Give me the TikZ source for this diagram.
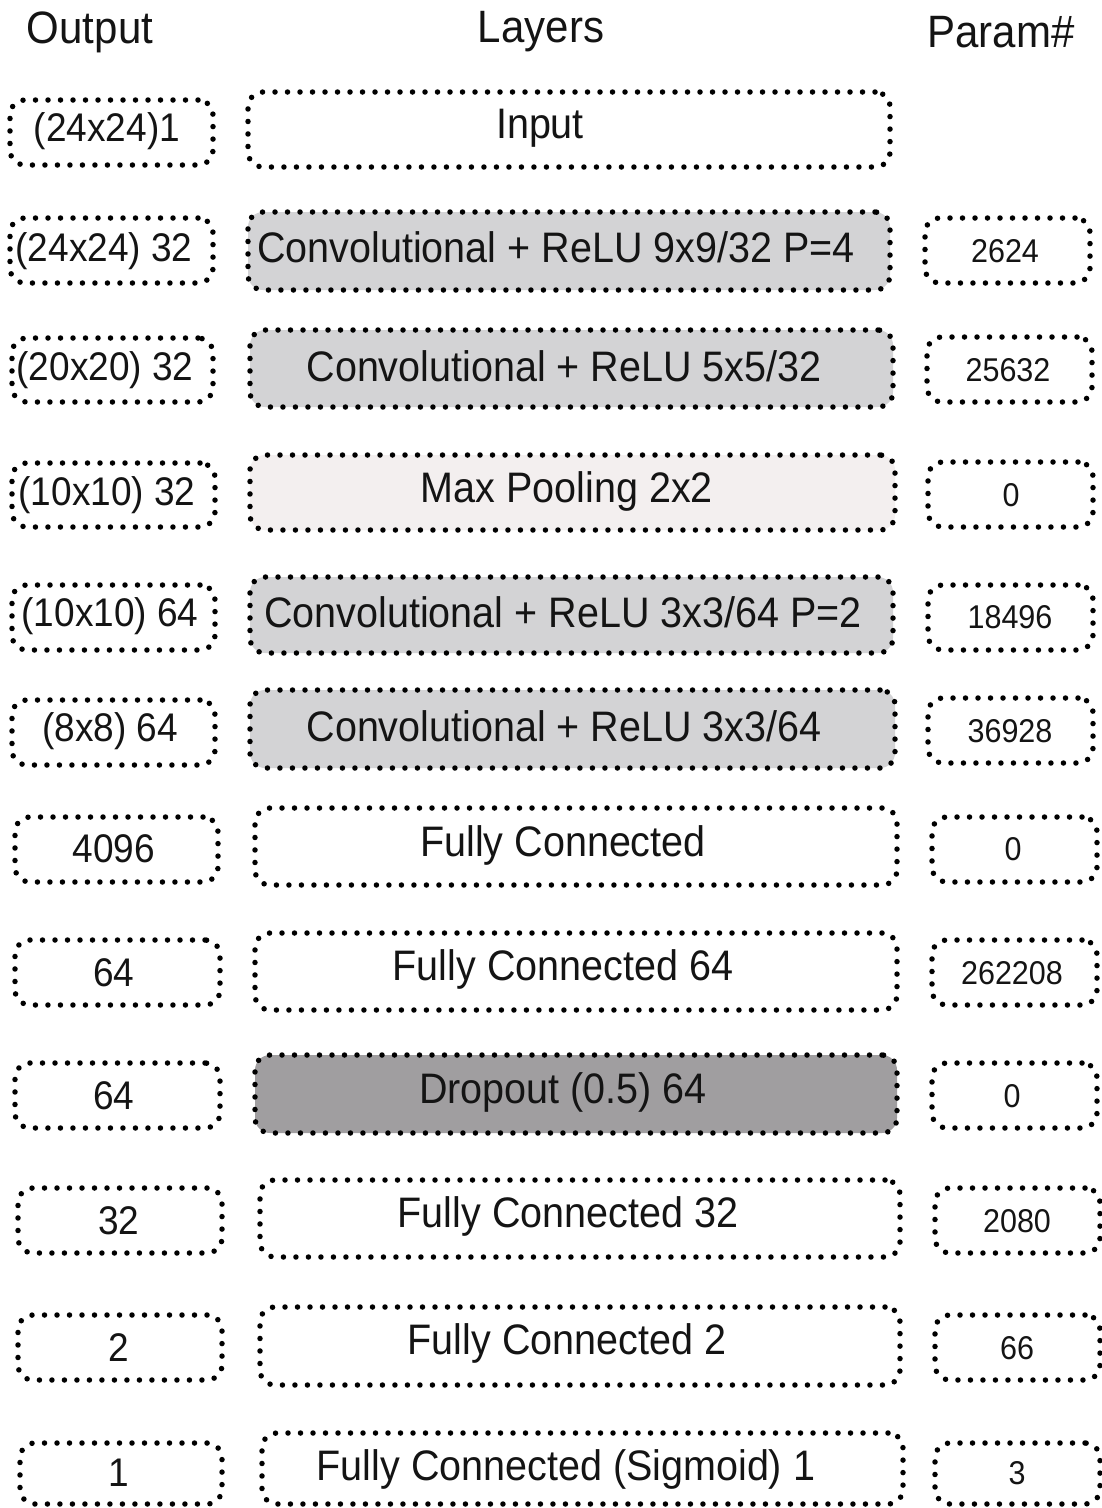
\documentclass[tikz,border=0pt]{standalone}
\usepackage{graphicx}
\usepackage{fontspec}
\setmainfont{Liberation Sans}
\definecolor{convfill}{RGB}{211,211,213}
\definecolor{poolfill}{RGB}{243,239,239}
\definecolor{dropfill}{RGB}{160,158,160}
\definecolor{txt}{RGB}{20,20,20}
\newcommand\tall[1]{\scalebox{1}[1.08]{#1}}
\tikzset{
  dbox/.style={draw=black, line width=5.5pt, dash pattern=on 0pt off 12.5pt, line cap=round, rounded corners=15pt, inner sep=0pt},
  htxt/.style={font=\fontsize{42}{48}\selectfont, text=txt, inner sep=0pt},
  mtxt/.style={font=\fontsize{39.5}{46}\selectfont, text=txt, inner sep=0pt},
  ltxt/.style={font=\fontsize{37}{44}\selectfont, text=txt, inner sep=0pt},
  rtxt/.style={font=\fontsize{30.5}{36}\selectfont, text=txt, inner sep=0pt},
  conv/.style={fill=convfill},
  pool/.style={fill=poolfill},
  drop/.style={fill=dropfill},
  plain/.style={fill=white},
}
\newcommand\mybox[6]{%
  \pgfmathsetmacro\cxx{(#2+#4)/2}\pgfmathsetmacro\cyy{(#3+#5)/2}%
  \pgfmathsetmacro\ww{#4-#2}\pgfmathsetmacro\hh{#5-#3}%
  \node[dbox,#6,minimum width=\ww pt,minimum height=\hh pt] (#1) at (\cxx,\cyy) {};}
\begin{document}
\begin{tikzpicture}[x=1pt,y=-1pt]
\useasboundingbox[fill=white] (0,0) rectangle (1102,1508);
% headers
\node[htxt] (hout) at (90,32) {\tall{Output}};
\node[htxt] (hlay) at (541,32) {\tall{Layers}};
\node[htxt] (hpar) at (1001,32) {\tall{Param\#}};
% row 0
\mybox{l0}{10}{100}{213}{165}{plain}
\mybox{m0}{248}{92}{890}{167}{plain}
\node[ltxt] (l0t) at (107,131) {\tall{(24x24)1}};
\node[mtxt] (m0t) at (540,128) {\tall{Input}};
% row 1
\mybox{l1}{10}{218}{213}{283}{plain}
\mybox{m1}{248}{212}{890}{290}{conv}
\mybox{r1}{925}{218}{1090}{283}{plain}
\node[ltxt] (l1t) at (104,251) {\tall{(24x24) 32}};
\node[mtxt] (m1t) at (556,247) {\tall{Convolutional + ReLU 9x9/32 P=4}};
\node[rtxt] (r1t) at (1005,251) {\tall{2624}};
% row 2
\mybox{l2}{12}{338}{213}{402}{plain}
\mybox{m2}{250}{330}{893}{407}{conv}
\mybox{r2}{927}{337}{1092}{402}{plain}
\node[ltxt] (l2t) at (105,370) {\tall{(20x20) 32}};
\node[mtxt] (m2t) at (564,366) {\tall{Convolutional + ReLU 5x5/32}};
\node[rtxt] (r2t) at (1008,370) {\tall{25632}};
% row 3
\mybox{l3}{12}{463}{215}{527}{plain}
\mybox{m3}{250}{455}{895}{530}{pool}
\mybox{r3}{928}{462}{1093}{527}{plain}
\node[ltxt] (l3t) at (107,495) {\tall{(10x10) 32}};
\node[mtxt] (m3t) at (567,491) {\tall{Max Pooling 2x2}};
\node[rtxt] (r3t) at (1011,495) {\tall{0}};
% row 4
\mybox{l4}{12}{585}{215}{650}{plain}
\mybox{m4}{250}{577}{893}{653}{conv}
\mybox{r4}{928}{585}{1093}{650}{plain}
\node[ltxt] (l4t) at (110,616) {\tall{(10x10) 64}};
\node[mtxt] (m4t) at (563,612) {\tall{Convolutional + ReLU 3x3/64 P=2}};
\node[rtxt] (r4t) at (1010,617) {\tall{18496}};
% row 5
\mybox{l5}{12}{700}{215}{765}{plain}
\mybox{m5}{250}{690}{895}{768}{conv}
\mybox{r5}{928}{698}{1093}{763}{plain}
\node[ltxt] (l5t) at (110,731) {\tall{(8x8) 64}};
\node[mtxt] (m5t) at (564,726) {\tall{Convolutional + ReLU 3x3/64}};
\node[rtxt] (r5t) at (1010,731) {\tall{36928}};
% row 6
\mybox{l6}{15}{817}{218}{882}{plain}
\mybox{m6}{255}{808}{897}{885}{plain}
\mybox{r6}{932}{817}{1097}{882}{plain}
\node[ltxt] (l6t) at (114,849) {\tall{4096}};
\node[mtxt] (m6t) at (563,845) {\tall{Fully Connected}};
\node[rtxt] (r6t) at (1013,849) {\tall{0}};
% row 7
\mybox{l7}{15}{940}{220}{1005}{plain}
\mybox{m7}{255}{933}{897}{1010}{plain}
\mybox{r7}{932}{940}{1097}{1005}{plain}
\node[ltxt] (l7t) at (114,973) {\tall{64}};
\node[mtxt] (m7t) at (563,969) {\tall{Fully Connected 64}};
\node[rtxt] (r7t) at (1012,973) {\tall{262208}};
% row 8
\mybox{l8}{15}{1063}{220}{1128}{plain}
\mybox{m8}{255}{1055}{897}{1133}{drop}
\mybox{r8}{932}{1063}{1097}{1128}{plain}
\node[ltxt] (l8t) at (114,1096) {\tall{64}};
\node[mtxt] (m8t) at (563,1092) {\tall{Dropout (0.5) 64}};
\node[rtxt] (r8t) at (1012,1096) {\tall{0}};
% row 9
\mybox{l9}{18}{1188}{222}{1253}{plain}
\mybox{m9}{260}{1180}{900}{1257}{plain}
\mybox{r9}{935}{1188}{1100}{1253}{plain}
\node[ltxt] (l9t) at (119,1221) {\tall{32}};
\node[mtxt] (m9t) at (568,1216) {\tall{Fully Connected 32}};
\node[rtxt] (r9t) at (1017,1221) {\tall{2080}};
% row 10
\mybox{l10}{18}{1315}{222}{1380}{plain}
\mybox{m10}{260}{1307}{900}{1385}{plain}
\mybox{r10}{935}{1315}{1100}{1380}{plain}
\node[ltxt] (l10t) at (119,1348) {\tall{2}};
\node[mtxt] (m10t) at (567,1343) {\tall{Fully Connected 2}};
\node[rtxt] (r10t) at (1017,1348) {\tall{66}};
% row 11
\mybox{l11}{20}{1443}{222}{1504}{plain}
\mybox{m11}{262}{1433}{903}{1504}{plain}
\mybox{r11}{935}{1443}{1100}{1504}{plain}
\node[ltxt] (l11t) at (119,1473) {\tall{1}};
\node[mtxt] (m11t) at (566,1469) {\tall{Fully Connected (Sigmoid) 1}};
\node[rtxt] (r11t) at (1017,1473) {\tall{3}};
\end{tikzpicture}
\end{document}
